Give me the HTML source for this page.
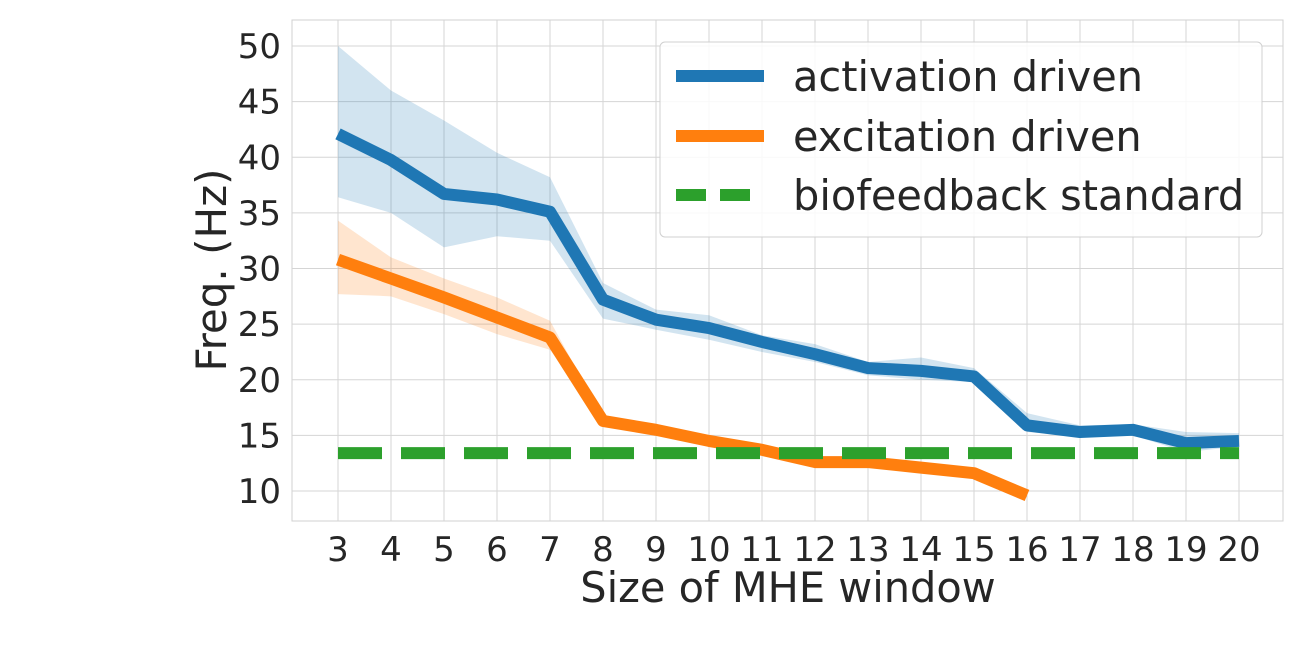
<!DOCTYPE html>
<html><head><meta charset="utf-8"><style>
body{margin:0;background:#fff;font-family:"Liberation Sans","DejaVu Sans",sans-serif}
svg text{font-family:"DejaVu Sans","Liberation Sans",sans-serif;fill:#262626}
</style></head><body>
<svg id="c" width="1314" height="665" xmlns="http://www.w3.org/2000/svg"></svg>
<script>
const categories=[3,4,5,6,7,8,9,10,11,12,13,14,15,16,17,18,19,20];
const activation=[42.1,39.75,36.7,36.2,35.1,27.2,25.4,24.65,23.4,22.3,21.05,20.8,20.3,15.9,15.3,15.5,14.3,14.5];
const activationUpper=[50,46,43.3,40.4,38.2,28.7,26.3,25.8,24,23.2,21.6,22,21.05,17,15.9,16,15.3,15.2];
const activationLower=[36.4,35,31.9,32.9,32.5,25.5,24.5,23.6,22.5,21.6,20.4,20,19.8,15.3,14.9,15,13.5,14];
const excitation=[30.8,29.1,27.4,25.6,23.8,16.3,15.5,14.5,13.7,12.6,12.6,12.1,11.6,9.6];
const excitationUpper=[34.3,31,29.1,27.4,25.3,16.6,15.8,14.8,14,12.9,12.9,12.4,11.9,9.8];
const excitationLower=[27.7,27.5,25.9,24.1,22.7,16,15.2,14.2,13.4,12.3,12.3,11.8,11.3,9.4];
const biofeedback=13.4;
const yTicks=[10,15,20,25,30,35,40,45,50];
const L=292,R=1283,T=20,B=521;
const x=c=>338+(c-3)*53;
const y=v=>491-(v-10)*11.125;
const s=document.getElementById('c');const NS='http://www.w3.org/2000/svg';
function el(t,a,p){const e=document.createElementNS(NS,t);for(const k in a)e.setAttribute(k,a[k]);(p||s).appendChild(e);return e;}
const bg=el('rect',{x:L,y:T,width:R-L,height:B-T,fill:'#fff',stroke:'#d0d0d0','stroke-width':1});

yTicks.forEach(v=>{const g=el('line',{x1:L,x2:R,y1:y(v),y2:y(v),stroke:'#d5d5d5','stroke-width':1});

const t=el('text',{x:L-11,y:y(v)+12,'text-anchor':'end','font-size':34});t.textContent=v;
});
categories.forEach(c=>{const g=el('line',{x1:x(c),x2:x(c),y1:T,y2:B,stroke:'#d5d5d5','stroke-width':1});

const t=el('text',{x:x(c),y:561,'text-anchor':'middle','font-size':34});t.textContent=c;
});
function band(up,lo,col,name){let d='';up.forEach((v,i)=>d+=(i?'L':'M')+x(categories[i])+','+y(v));
for(let i=lo.length-1;i>=0;i--)d+='L'+x(categories[i])+','+y(lo[i]);
const p=el('path',{d:d+'Z',fill:col,'fill-opacity':0.2});}
function line(vals,col,name){const p=el('polyline',{points:vals.map((v,i)=>x(categories[i])+','+y(v)).join(' '),fill:'none',stroke:col,'stroke-width':12,'stroke-linejoin':'round'});
}
band(activationUpper,activationLower,'#1f77b4','activation-band');
band(excitationUpper,excitationLower,'#ff7f0e','excitation-band');
line(activation,'#1f77b4','activation-line');
line(excitation,'#ff7f0e','excitation-line');
const bl=el('line',{x1:x(3),x2:x(20),y1:y(biofeedback),y2:y(biofeedback),stroke:'#2ca02c','stroke-width':12,'stroke-dasharray':'44 19'});

const yl=el('text',{x:0,y:0,transform:'translate(226,270) rotate(-90)','text-anchor':'middle','font-size':42});yl.textContent='Freq. (Hz)';

const xl=el('text',{x:788,y:602,'text-anchor':'middle','font-size':41.5});xl.textContent='Size of MHE window';

const lg=el('rect',{x:660,y:42,width:602,height:195,rx:5,fill:'#fff','fill-opacity':0.85,stroke:'#d0d0d0'});

[['activation driven','#1f77b4',76,null],['excitation driven','#ff7f0e',136,null],['biofeedback standard','#2ca02c',195,'30 14']].forEach(e=>{
const a={x1:676,x2:764,y1:e[2],y2:e[2],stroke:e[1],'stroke-width':12};if(e[3])a['stroke-dasharray']=e[3];
const l=el('line',a);
const t=el('text',{x:793,y:e[2]+15,'font-size':41.5});t.textContent=e[0];
});
</script>
</body></html>
